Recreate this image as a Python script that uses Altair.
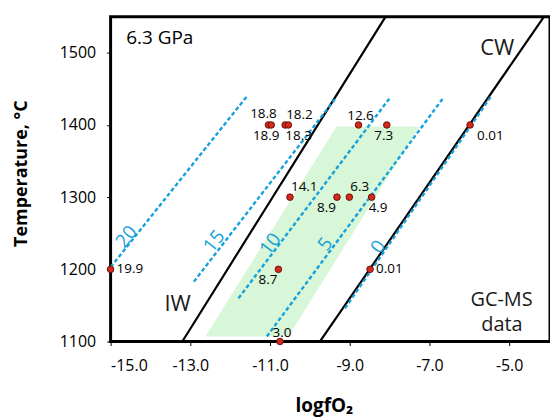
import math
import altair as alt
import pandas as pd

# ---------------- data ----------------
# GC-MS data points (logfO2, temperature) and their labels
pt_logfo2 = [-11.04, -10.97, -10.62, -10.54, -8.78, -8.07, -5.98,
             -10.50, -9.32, -9.01, -8.45,
             -15.0, -10.79, -8.49,
             -10.75]
pt_temp = [1400, 1400, 1400, 1400, 1400, 1400, 1400,
           1300, 1300, 1300, 1300,
           1200, 1200, 1200,
           1100]
pt_label = ["18.8", "18.9", "18.2", "18.3", "12.6", "7.3", "0.01",
            "14.1", "8.9", "6.3", "4.9",
            "19.9", "8.7", "0.01",
            "3.0"]
pt_place = ["nl", "sl", "ne", "se", "n", "s", "ese",
            "ne", "sw", "ne", "se",
            "e", "sw", "e",
            "n"]

# buffer lines (solid black)
buf_name = ["IW", "IW", "CW", "CW"]
buf_x = [-13.2, -8.1, -9.75, -4.125]
buf_t = [1100, 1550, 1100, 1550]

# iso-lines (blue dashed): start/end
iso_level = ["20", "15", "10", "5", "0"]
iso_x0 = [-15.0, -12.91, -11.79, -11.08, -9.12]
iso_t0 = [1203, 1183, 1160, 1107, 1146]
iso_x1 = [-11.59, -9.34, -8.00, -6.66, -5.45]
iso_t1 = [1439, 1438, 1437, 1437, 1440]
iso_lab_x = [-14.60, -12.40, -10.99, -9.61, -8.28]
iso_lab_t = [1245, 1239, 1235, 1235, 1231]

# green field (parallelogram)
field_t = [1107, 1398]
field_left = [-12.62, -9.33]
field_right = [-10.54, -7.25]

# annotations
big_text = ["CW", "IW"]
big_x = [-5.30, -13.32]
big_t = [1507, 1151.4]
gc_text = ["GC-MS", "data"]
gc_x = [-5.19, -5.18]
gc_t = [1157, 1123]
title_text = ["6.3 GPa"]
title_x = [-14.61]
title_t = [1520.7]

x_ticks = [-15, -13, -11, -9, -7, -5]
y_ticks = [1100, 1200, 1300, 1400, 1500]

# ---------------- styling ----------------
FONT = "Open Sans"
BLUE = "#17a0da"
W, H = 441, 326
X_DOM = [-15, -3.975]
Y_DOM = [1100, 1550]
PX_X = W / (X_DOM[1] - X_DOM[0])
PX_Y = H / (Y_DOM[1] - Y_DOM[0])

xscale = alt.Scale(domain=X_DOM, nice=False, zero=False)
yscale = alt.Scale(domain=Y_DOM, nice=False, zero=False)

x_axis = alt.Axis(values=x_ticks, title="logfO₂", grid=False, domain=False,
                  labelExpr="replace(format(datum.value, '.1f'), '\u2212', '-')",
                  tickColor="black", tickSize=4, labelPadding=12,
                  labelFont=FONT, labelFontSize=16, labelColor="black",
                  titleFont=FONT, titleFontSize=19, titleFontWeight="bold",
                  titleColor="black", titleX=214, titleY=64, titleBaseline="middle")
y_axis = alt.Axis(values=y_ticks, title="Temperature, °C", grid=False, domain=False,
                  format="d",
                  tickColor="black", tickSize=4, labelPadding=11,
                  labelFont=FONT, labelFontSize=16, labelColor="black",
                  titleFont=FONT, titleFontSize=18, titleFontWeight="bold",
                  titleColor="black", titleX=-89, titleY=157, titleBaseline="middle",
                  titleAlign="center")


def X(field):
    return alt.X(f"{field}:Q", scale=xscale, axis=x_axis)


def Y(field):
    return alt.Y(f"{field}:Q", scale=yscale, axis=y_axis)


# ---------------- tables ----------------
pts = pd.DataFrame({"x": pt_logfo2, "t": pt_temp, "label": pt_label, "place": pt_place})
buf = pd.DataFrame({"name": buf_name, "x": buf_x, "t": buf_t})
iso_rows = []
for lv, a, b, c, d in zip(iso_level, iso_x0, iso_t0, iso_x1, iso_t1):
    iso_rows.append({"level": lv, "x": a, "t": b})
    iso_rows.append({"level": lv, "x": c, "t": d})
iso = pd.DataFrame(iso_rows)
iso_angle = []
for a, b, c, d in zip(iso_x0, iso_t0, iso_x1, iso_t1):
    ang = math.degrees(math.atan2((d - b) * PX_Y, (c - a) * PX_X))
    iso_angle.append(360 - ang)
iso_lab = pd.DataFrame({"level": iso_level, "x": iso_lab_x, "t": iso_lab_t, "angle": iso_angle})
field = pd.DataFrame({"t": field_t, "x": field_left, "x2": field_right})
big = pd.DataFrame({"text": big_text, "x": big_x, "t": big_t})
gc = pd.DataFrame({"text": gc_text, "x": gc_x, "t": gc_t})
ttl = pd.DataFrame({"text": title_text, "x": title_x, "t": title_t})

# ---------------- layers ----------------
area = alt.Chart(field).mark_area(orient="horizontal", color="#d8f6d8", opacity=1).encode(
    y=Y("t"), x=X("x"), x2=alt.X2("x2:Q"))

buffers = alt.Chart(buf).mark_line(color="black", strokeWidth=2.2).encode(
    x=X("x"), y=Y("t"), detail="name:N")

isolines = alt.Chart(iso).mark_line(color=BLUE, strokeWidth=2.4, strokeDash=[4, 2.5]).encode(
    x=X("x"), y=Y("t"), detail="level:N")

iso_text = alt.Chart(iso_lab).mark_text(color=BLUE, font=FONT, fontSize=19,
                                        align="center", baseline="middle").encode(
    x=X("x"), y=Y("t"), text="level:N", angle=alt.Angle("angle:Q", scale=None))

placements = {
    "n": ("center", 2, -9),
    "nl": ("center", -5, -11),
    "sl": ("center", -5, 11),
    "s": ("center", -3, 11),
    "ne": ("left", 1, -10),
    "se": ("left", -3, 11),
    "sw": ("right", -1, 11),
    "e": ("left", 6, 0),
    "ese": ("left", 7, 11),
}
label_layers = []
for key, (al, ddx, ddy) in placements.items():
    label_layers.append(
        alt.Chart(pts).transform_filter(alt.datum.place == key)
        .mark_text(font=FONT, fontSize=13.5, color="black", align=al,
                   baseline="middle", dx=ddx, dy=ddy)
        .encode(x=X("x"), y=Y("t"), text="label:N"))

points = alt.Chart(pts).mark_point(filled=True, shape="circle", size=44, fill="#d42a1c",
                                   stroke="#5e0d08", strokeWidth=0.9, opacity=1).encode(
    x=X("x"), y=Y("t"))

big_layer = alt.Chart(big).mark_text(font=FONT, fontSize=22, color="#1a1a1a",
                                     align="center", baseline="middle").encode(
    x=X("x"), y=Y("t"), text="text:N")

gc_layer = alt.Chart(gc).mark_text(font=FONT, fontSize=20, color="#1a1a1a",
                                   align="center", baseline="middle").encode(
    x=X("x"), y=Y("t"), text="text:N")

ttl_layer = alt.Chart(ttl).mark_text(font=FONT, fontSize=19, color="black",
                                     align="left", baseline="middle").encode(
    x=X("x"), y=Y("t"), text="text:N")

chart = alt.layer(area, buffers, isolines, iso_text, *label_layers, points,
                  big_layer, gc_layer, ttl_layer).properties(
    width=W, height=H,
    autosize=alt.AutoSizeParams(type="none"),
    padding={"left": 111, "top": 16, "right": 0, "bottom": 77},
    background="white",
).configure_view(stroke="black", strokeWidth=3)

chart.save("out.html", embed_options={"renderer": "svg", "actions": False})
